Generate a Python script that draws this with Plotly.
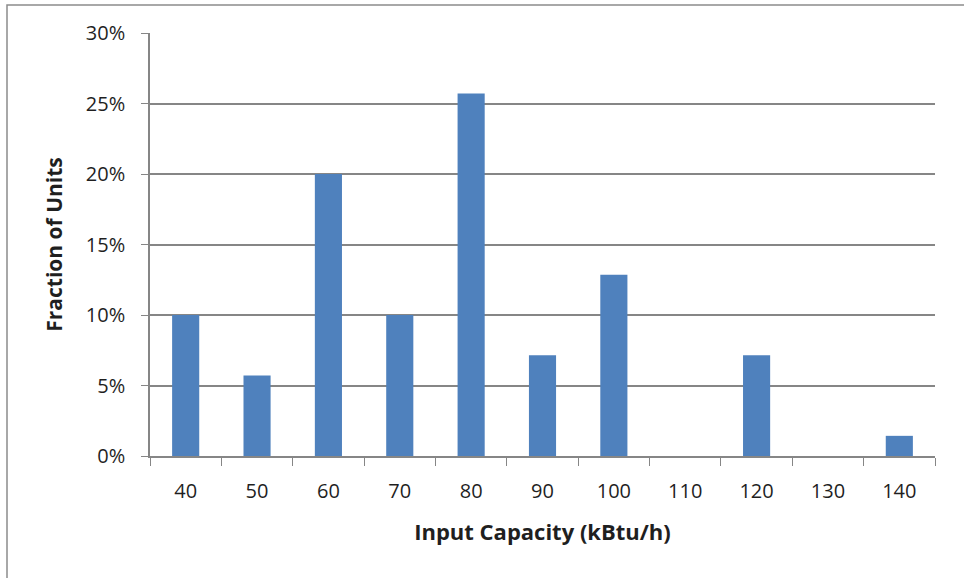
import plotly.graph_objects as go

# Input capacity bins (kBtu/h) and fraction of units in each bin
capacity = ["40", "50", "60", "70", "80", "90", "100", "110", "120", "130", "140"]
fraction = [0.1000, 0.0571, 0.2000, 0.1000, 0.2571, 0.0714, 0.1286, 0.0, 0.0714, 0.0, 0.0143]

W, H = 964, 578
L, R, T, B = 150, 29, 33, 122

fig = go.Figure(
    go.Bar(
        x=capacity,
        y=fraction,
        width=0.38,
        marker=dict(color="#4F81BD", line=dict(width=0)),
    )
)

font_family = "Open Sans, Liberation Sans, sans-serif"
axis_gray = "#868686"
text_color = "#1f1f1f"

fig.update_layout(
    width=W,
    height=H,
    margin=dict(l=L, r=R, t=T, b=B),
    plot_bgcolor="white",
    paper_bgcolor="white",
    showlegend=False,
    font=dict(family=font_family, color=text_color, size=20),
    xaxis=dict(
        type="category",
        tickson="boundaries",
        ticks="outside",
        ticklen=8,
        tickcolor=axis_gray,
        showline=True,
        linecolor=axis_gray,
        linewidth=1.5,
        showgrid=False,
        tickfont=dict(size=20, color=text_color),
        ticklabelstandoff=16,
        title=dict(
            text="<b>Input Capacity (kBtu/h)</b>",
            font=dict(size=22, color=text_color),
            standoff=22,
        ),
    ),
    yaxis=dict(
        range=[0, 0.30],
        dtick=0.05,
        tickformat=".0%",
        ticks="outside",
        ticklen=7,
        tickcolor=axis_gray,
        showline=True,
        linecolor=axis_gray,
        linewidth=1.5,
        showgrid=True,
        gridcolor=axis_gray,
        gridwidth=1.5,
        zeroline=False,
        tickfont=dict(size=20, color=text_color),
        ticklabelstandoff=12,
        title=dict(
            text="<b>Fraction of Units</b>",
            font=dict(size=21, color=text_color),
            standoff=17,
        ),
    ),
)

# Chart frame (extends beyond the right and bottom page edges)
pw, ph = W - L - R, H - T - B
fig.add_shape(
    type="rect",
    xref="paper",
    yref="paper",
    x0=(7 - L) / pw,
    x1=(W + 40 - L) / pw,
    y0=-(H + 40 - (H - B)) / ph,
    y1=((H - B) - 5) / ph,
    line=dict(color="#8c8c8c", width=1.5),
    fillcolor="rgba(0,0,0,0)",
    layer="below",
)

fig.write_html("out.html")
